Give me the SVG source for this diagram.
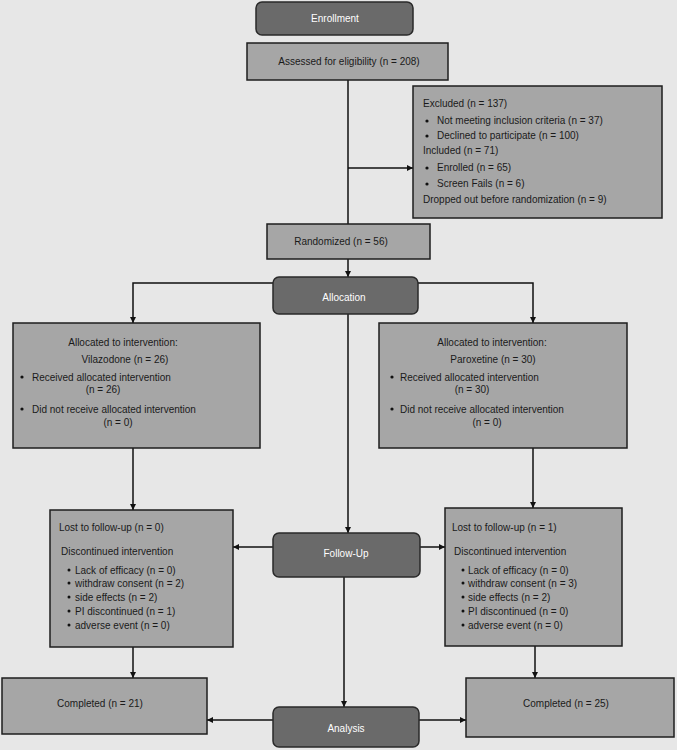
<svg xmlns="http://www.w3.org/2000/svg" width="677" height="750" viewBox="0 0 677 750">
<style>
text{font-family:"Liberation Sans",Arial,sans-serif;font-size:11px;fill:#1a1a1a}
.box{fill:#a6a6a6;stroke:#1e1e1e;stroke-width:1.5}
.dark{fill:#6a6a6a;stroke:#2a2a2a;stroke-width:1.5}
.w{fill:#ffffff}
.c{text-anchor:middle}
.con{fill:none;stroke:#111;stroke-width:1.5}
.b{fill:#111}
</style>
<defs>
<marker id="ah" viewBox="0 0 10 10" refX="10" refY="5" markerWidth="6" markerHeight="6" markerUnits="userSpaceOnUse" orient="auto"><path d="M0,0 L10,5 L0,10 z" fill="#111"/></marker>
</defs>
<rect x="0" y="0" width="677" height="750" fill="#e7e7e7"/>
<g id="connectors">
<path class="con" d="M348,80 V224"/>
<path class="con" d="M348,168 H413" marker-end="url(#ah)"/>
<path class="con" d="M348,259 V277" marker-end="url(#ah)"/>
<path class="con" d="M273,283 H133 V323" marker-end="url(#ah)"/>
<path class="con" d="M418,283 H533 V323" marker-end="url(#ah)"/>
<path class="con" d="M348,314 V533" marker-end="url(#ah)"/>
<path class="con" d="M133,448 V510" marker-end="url(#ah)"/>
<path class="con" d="M533,448 V508" marker-end="url(#ah)"/>
<path class="con" d="M273,547 H233" marker-end="url(#ah)"/>
<path class="con" d="M420,547 H445" marker-end="url(#ah)"/>
<path class="con" d="M344,577 V707" marker-end="url(#ah)"/>
<path class="con" d="M133,647 V678" marker-end="url(#ah)"/>
<path class="con" d="M535,646 V678" marker-end="url(#ah)"/>
<path class="con" d="M273,720 H207" marker-end="url(#ah)"/>
<path class="con" d="M419,720 H466" marker-end="url(#ah)"/>
</g>
<g id="enrollment">
<rect class="dark" x="256" y="2" width="157" height="33" rx="6"/>
<g transform="scale(0.91,1)"><text class="w c" x="368.13" y="22">Enrollment</text></g>
</g>
<g id="assessed">
<rect class="box" x="247" y="43" width="201" height="37"/>
<g transform="scale(0.91,1)"><text class="c" x="383.52" y="65">Assessed for eligibility (n = 208)</text></g>
</g>
<g id="excluded">
<rect class="box" x="413" y="86" width="249" height="132"/>
<circle class="b" cx="427" cy="121" r="1.6"/>
<circle class="b" cx="427" cy="136" r="1.6"/>
<circle class="b" cx="427" cy="168" r="1.6"/>
<circle class="b" cx="427" cy="184" r="1.6"/>
<g transform="scale(0.91,1)">
<text x="464.84" y="107">Excluded (n = 137)</text>
<text x="480.22" y="124">Not meeting inclusion criteria (n = 37)</text>
<text x="480.22" y="139">Declined to participate (n = 100)</text>
<text x="464.84" y="154">Included (n = 71)</text>
<text x="480.22" y="171">Enrolled (n = 65)</text>
<text x="480.22" y="187">Screen Fails (n = 6)</text>
<text x="464.84" y="203">Dropped out before randomization (n = 9)</text>
</g>
</g>
<g id="randomized">
<rect class="box" x="267" y="224" width="163" height="35"/>
<g transform="scale(0.91,1)"><text class="c" x="374.73" y="245">Randomized (n = 56)</text></g>
</g>
<g id="allocation">
<rect class="dark" x="273" y="277" width="145" height="37" rx="6"/>
<g transform="scale(0.91,1)"><text class="w c" x="378.02" y="301">Allocation</text></g>
</g>
<g id="alloc-left">
<rect class="box" x="13" y="323" width="247" height="125"/>
<circle class="b" cx="22" cy="377" r="1.6"/>
<circle class="b" cx="22" cy="409" r="1.6"/>
<g transform="scale(0.91,1)">
<text class="c" x="135.16" y="346">Allocated to intervention:</text>
<text class="c" x="137.36" y="363">Vilazodone (n = 26)</text>
<text x="35.16" y="381">Received allocated intervention</text>
<text class="c" x="113.19" y="393">(n = 26)</text>
<text x="35.16" y="413">Did not receive allocated intervention</text>
<text class="c" x="129.67" y="426">(n = 0)</text>
</g>
</g>
<g id="alloc-right">
<rect class="box" x="379" y="323" width="248" height="125"/>
<circle class="b" cx="392" cy="377" r="1.6"/>
<circle class="b" cx="392" cy="409" r="1.6"/>
<g transform="scale(0.91,1)">
<text class="c" x="540.66" y="346">Allocated to intervention:</text>
<text class="c" x="541.76" y="363">Paroxetine (n = 30)</text>
<text x="439.56" y="381">Received allocated intervention</text>
<text class="c" x="518.68" y="393">(n = 30)</text>
<text x="439.56" y="413">Did not receive allocated intervention</text>
<text class="c" x="535.16" y="426">(n = 0)</text>
</g>
</g>
<g id="followup-left">
<rect class="box" x="50" y="510" width="183" height="137"/>
<circle class="b" cx="69" cy="570" r="1.5"/>
<circle class="b" cx="69" cy="583" r="1.5"/>
<circle class="b" cx="69" cy="597" r="1.5"/>
<circle class="b" cx="69" cy="611" r="1.5"/>
<circle class="b" cx="69" cy="625" r="1.5"/>
<g transform="scale(0.91,1)">
<text x="64.84" y="531">Lost to follow-up (n = 0)</text>
<text x="67.03" y="555">Discontinued intervention</text>
<text x="82.42" y="574">Lack of efficacy (n = 0)</text>
<text x="82.42" y="587">withdraw consent (n = 2)</text>
<text x="82.42" y="601">side effects (n = 2)</text>
<text x="82.42" y="615">PI discontinued (n = 1)</text>
<text x="82.42" y="629">adverse event (n = 0)</text>
</g>
</g>
<g id="followup">
<rect class="dark" x="273" y="533" width="147" height="44" rx="6"/>
<g transform="scale(0.91,1)"><text class="w c" x="380.22" y="557">Follow-Up</text></g>
</g>
<g id="followup-right">
<rect class="box" x="445" y="508" width="177" height="138"/>
<circle class="b" cx="463" cy="570" r="1.5"/>
<circle class="b" cx="463" cy="583" r="1.5"/>
<circle class="b" cx="463" cy="597" r="1.5"/>
<circle class="b" cx="463" cy="611" r="1.5"/>
<circle class="b" cx="463" cy="625" r="1.5"/>
<g transform="scale(0.91,1)">
<text x="496.70" y="531">Lost to follow-up (n = 1)</text>
<text x="498.90" y="555">Discontinued intervention</text>
<text x="514.29" y="574">Lack of efficacy (n = 0)</text>
<text x="514.29" y="587">withdraw consent (n = 3)</text>
<text x="514.29" y="601">side effects (n = 2)</text>
<text x="514.29" y="615">PI discontinued (n = 0)</text>
<text x="514.29" y="629">adverse event (n = 0)</text>
</g>
</g>
<g id="completed-left">
<rect class="box" x="2" y="678" width="205" height="56"/>
<g transform="scale(0.91,1)"><text class="c" x="109.89" y="707">Completed (n = 21)</text></g>
</g>
<g id="analysis">
<rect class="dark" x="273" y="707" width="146" height="40" rx="6"/>
<g transform="scale(0.91,1)"><text class="w c" x="380.22" y="732">Analysis</text></g>
</g>
<g id="completed-right">
<rect class="box" x="466" y="678" width="208" height="59"/>
<g transform="scale(0.91,1)"><text class="c" x="621.98" y="707">Completed (n = 25)</text></g>
</g>
</svg>
